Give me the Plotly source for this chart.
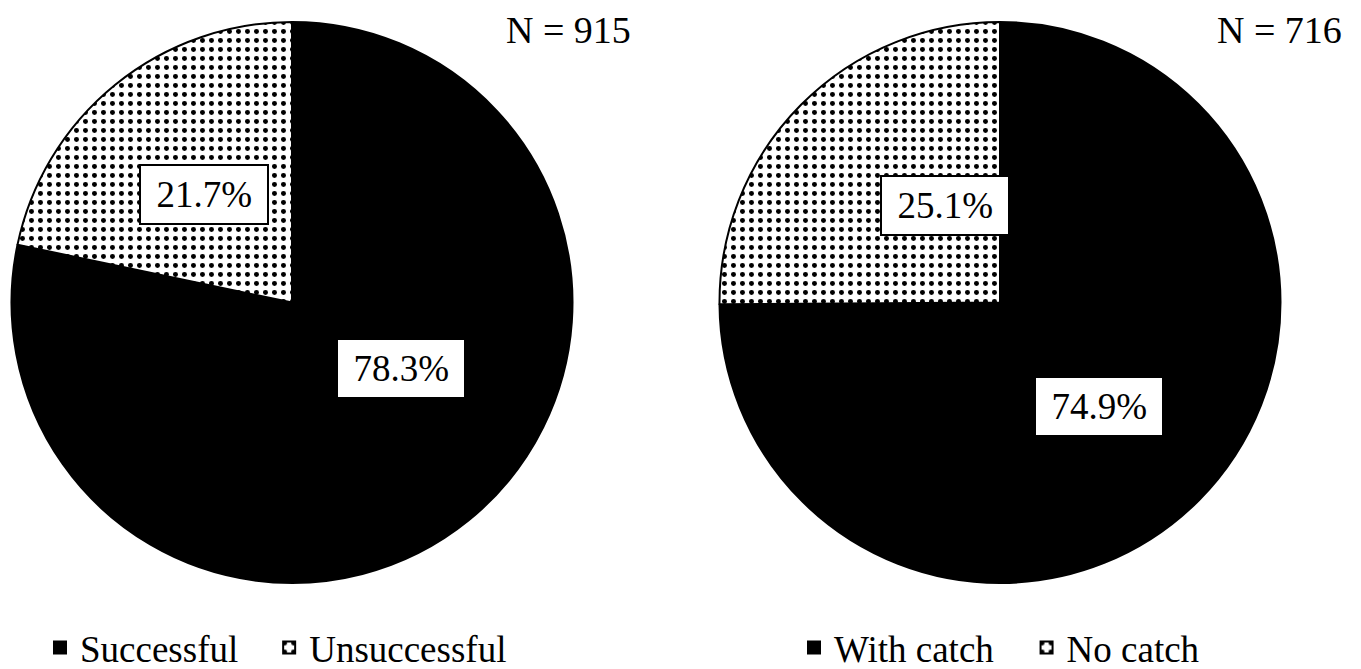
import plotly.graph_objects as go

# Outcome shares (percent) for the two samples
left_labels = ["Successful", "Unsuccessful"]
left_values = [78.3, 21.7]
left_n = 915

right_labels = ["With catch", "No catch"]
right_values = [74.9, 25.1]
right_n = 716

FONT = "Liberation Serif"
W, H = 1361, 669

dot_pattern = dict(shape=[".", "."], fgcolor="black", bgcolor=["black", "white"],
                   size=9, solidity=0.24)


def pie(labels, values, domain_x, legend, gap):
    # trailing spaces on the first entry widen the gap between legend items
    shown = [labels[0] + gap, labels[1]]
    return go.Pie(
        labels=shown, values=values, sort=False, direction="clockwise", rotation=0,
        textinfo="none", hoverinfo="label+percent",
        marker=dict(colors=["black", "white"], line=dict(color="black", width=2),
                    pattern=dot_pattern),
        domain=dict(x=domain_x, y=[86 / H, 647 / H]),
        legend=legend, showlegend=True,
    )


fig = go.Figure()
fig.add_trace(pie(left_labels, left_values, [9 / W, 575 / W], "legend", "\u2002\u2009"))
fig.add_trace(pie(right_labels, right_values, [717 / W, 1283 / W], "legend2", "\u00a0\u00a0\u00a0"))

# percentage boxes (centres in pixels)
label_pos = [(204, 195, left_values[1]), (401, 368, left_values[0]),
             (945, 206, right_values[1]), (1099, 406, right_values[0])]
for px, py, v in label_pos:
    fig.add_annotation(x=px / W, y=1 - py / H, xref="paper", yref="paper",
                       xanchor="center", yanchor="middle",
                       text=f"&#8201;{v:.1f}%&#8201;", showarrow=False,
                       font=dict(family=FONT, size=37, color="black"),
                       bgcolor="white", bordercolor="black", borderwidth=2, borderpad=8)

for xr, n in [(633, left_n), (1344, right_n)]:
    fig.add_annotation(x=xr / W, y=1 - 30 / H, xref="paper", yref="paper",
                       xanchor="right", yanchor="middle", text=f"N = {n}",
                       showarrow=False, font=dict(family=FONT, size=38, color="black"))

legend_style = dict(orientation="h", yanchor="middle", y=1 - 648 / H, xanchor="left",
                    font=dict(family=FONT, size=37, color="black"),
                    bgcolor="rgba(0,0,0,0)", itemclick=False, itemdoubleclick=False)

fig.update_layout(
    width=W, height=H, margin=dict(l=0, r=0, t=0, b=0, autoexpand=False),
    paper_bgcolor="white", plot_bgcolor="white",
    legend=dict(x=40 / W, **legend_style),
    legend2=dict(x=794 / W, **legend_style),
)

fig.write_html("out.html")
